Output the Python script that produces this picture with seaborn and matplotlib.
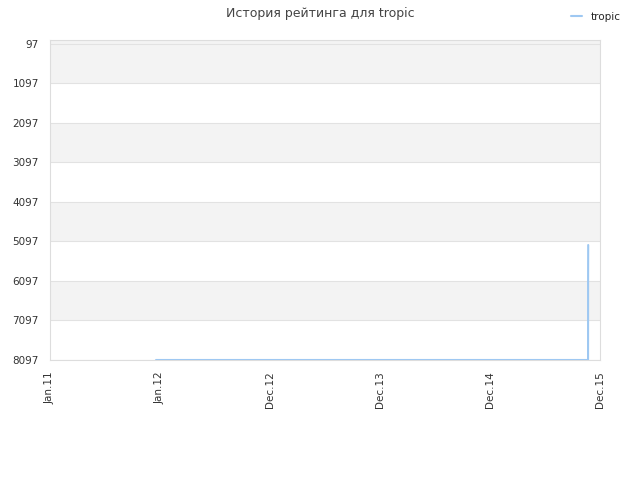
import pandas as pd
import matplotlib
matplotlib.use("Agg")
import matplotlib.pyplot as plt
import matplotlib.dates as mdates
import seaborn as sns
import numpy as np

# rating history (lower number = better place)
dates = ["2011-12-13 00:00", "2015-10-23 00:00", "2015-10-23 02:00",
         "2015-10-23 04:00", "2015-10-23 06:00", "2015-10-23 08:00",
         "2015-10-23 10:00", "2015-10-23 12:00"]
ranks = [8097, 8097, 7515, 6122, 5819, 5616, 5440, 5186]

y_ticks = [97, 1097, 2097, 3097, 4097, 5097, 6097, 7097, 8097]
x_labels = ["Jan.11", "Jan.12", "Dec.12", "Dec.13", "Dec.14", "Dec.15"]
x_start, x_end = "2011-01-01", "2015-12-01"

df = pd.DataFrame({"date": pd.to_datetime(dates), "rank": ranks})

sns.set_style("white")
plt.rcParams['font.family'] = ['DejaVu Sans']

fig = plt.figure(figsize=(6.4, 4.8), dpi=100)
ax = fig.add_axes([50 / 640, 120 / 480, 550 / 640, 320 / 480])

# alternating bands
ax.axhspan(-4, y_ticks[1], color="#f3f3f3", zorder=0, lw=0)
for i in range(2, len(y_ticks) - 1, 2):
    ax.axhspan(y_ticks[i], y_ticks[i + 1], color="#f3f3f3", zorder=0, lw=0)
for t in y_ticks:
    ax.axhline(t, color="#e2e2e2", lw=0.8, zorder=1)

sns.lineplot(data=df, x="date", y="rank", ax=ax, color="#9ec8f2",
             lw=1.5, label="tropic", zorder=3)

x0 = mdates.date2num(pd.Timestamp(x_start))
x1 = mdates.date2num(pd.Timestamp(x_end))
ax.set_xlim(x0, x1)
ax.set_xticks(np.linspace(x0, x1, len(x_labels)))
ax.set_xticklabels(x_labels, rotation=90, fontsize=7.5, color="#333333")
ax.set_ylim(8097, -4)
ax.set_yticks(y_ticks)
ax.set_yticklabels([str(t) for t in y_ticks], fontsize=7.5, color="#333333")
ax.tick_params(axis="y", length=0, pad=8)
ax.tick_params(axis="x", length=0, pad=8)
ax.set_xlabel("")
ax.set_ylabel("")

for s in ax.spines.values():
    s.set_color("#dddddd")
    s.set_linewidth(0.8)

ax.get_legend().remove()
handles, labels = ax.get_legend_handles_labels()
fig.legend(handles, labels, loc="upper right", bbox_to_anchor=(0.985, 0.995),
           frameon=False, fontsize=7.5, handlelength=1.0, handletextpad=0.9)

fig.suptitle("История рейтинга для tropic", fontsize=9, color="#444444", y=0.985)

fig.savefig("out.png", dpi=100)
